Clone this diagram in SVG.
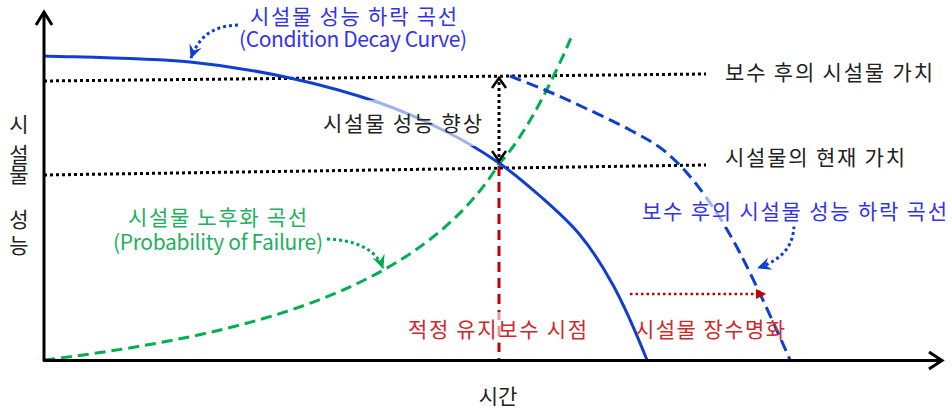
<svg xmlns="http://www.w3.org/2000/svg" width="952" height="410" viewBox="0 0 952 410">
<style>
text{font-family:"Noto Sans CJK KR","Noto Sans",sans-serif;font-size:21px}
.blk{fill:#222}
.blue{fill:#3333ee}
.green{fill:#22b060}
.red{fill:#d02828}
.dot{fill:none;stroke:#000;stroke-width:3;stroke-dasharray:3 3}
.haze{fill:#fff;fill-opacity:0.6}
.axis{fill:none;stroke:#000;stroke-width:3}
</style>
<defs>
<marker id="hb" viewBox="-14 -7 15 14" refX="0" refY="0" markerWidth="15" markerHeight="14" markerUnits="userSpaceOnUse" orient="auto">
<path d="M1,0 L-13,-6.5 L-8,0 L-13,6.5 Z" fill="#0f3fd0"/>
</marker>
<marker id="hg" viewBox="-14 -7 15 14" refX="0" refY="0" markerWidth="15" markerHeight="14" markerUnits="userSpaceOnUse" orient="auto">
<path d="M1,0 L-13,-6.5 L-8,0 L-13,6.5 Z" fill="#00a850"/>
</marker>
<marker id="hr" viewBox="-10 -6 11 12" refX="0" refY="0" markerWidth="11" markerHeight="12" markerUnits="userSpaceOnUse" orient="auto">
<path d="M1,0 L-9,-5 L-9,5 Z" fill="#c00000"/>
</marker>
</defs>

<g id="connectors">
<!-- value reference lines -->
<path class="dot" d="M44,81 L706,74"/>
<path class="dot" d="M44,175 L706,165"/>
<!-- optimal maintenance time -->
<path d="M499,166 L499,360" fill="none" stroke="#c00000" stroke-width="3" stroke-dasharray="10 6"/>
<!-- probability of failure curve -->
<path d="M44,360 C250,335 420,290 499,164 C525,136 552,82 571,38" fill="none" stroke="#00b050" stroke-width="3" stroke-dasharray="11 6"/>
<!-- condition decay curve -->
<path d="M44,56 C68,57 149,58 190,62 C231,66 258,71 290,78 C322,85 354,94 380,103 C406,112 427,122 447,132 C467,142 483.5,152.3 499,163 C514.5,173.7 526.5,184 540,196 C553.5,208 567.8,220.2 580,235 C592.2,249.8 601.8,264.5 613,285 C624.2,305.5 641.3,345.8 647,360" fill="none" stroke="#0f3fd0" stroke-width="3"/>
<!-- post-maintenance decay curve -->
<path d="M510,76 C515.8,78.3 532.5,84.7 545,90 C557.5,95.3 570.8,101.3 585,108 C599.2,114.7 616.3,122.5 630,130 C643.7,137.5 654.8,142.5 667,153 C679.2,163.5 690.8,176.3 703,193 C715.2,209.7 725.5,225.5 740,253 C754.5,280.5 781.7,340.5 790,360" fill="none" stroke="#0f3fd0" stroke-width="3" stroke-dasharray="12 6"/>
<!-- performance improvement double arrow -->
<path class="dot" d="M499,82 L499,158" stroke-width="2.5"/>
<polyline points="492,88 499,78 506,88" fill="none" stroke="#000" stroke-width="2.5"/>
<polyline points="492,151 499,161 506,151" fill="none" stroke="#000" stroke-width="2.5"/>
<!-- life extension arrow -->
<path d="M630,294 L765,294" fill="none" stroke="#c00000" stroke-width="2.5" stroke-dasharray="2.5 3" marker-end="url(#hr)"/>
<!-- callout arrows -->
<path d="M238,25 C215,26 200,34 191,58" fill="none" stroke="#0f3fd0" stroke-width="3" stroke-dasharray="3 3" marker-end="url(#hb)"/>
<path d="M794,226 C793,246 783,259 758,268" fill="none" stroke="#0f3fd0" stroke-width="3" stroke-dasharray="3 3" marker-end="url(#hb)"/>
<path d="M327,239 C355,240 376,249 383,268" fill="none" stroke="#00a850" stroke-width="3" stroke-dasharray="3 3" marker-end="url(#hg)"/>
</g>

<g id="axes">
<path class="axis" d="M44,361 L44,13"/>
<polyline class="axis" points="36,25 44,12 52,25"/>
<path class="axis" d="M43,360.5 L941,360.5"/>
<polyline class="axis" points="929,352 942,360.5 929,369"/>
</g>

<g id="label-improve">
<rect class="haze" x="318" y="100" width="170" height="46"/>
<text class="blk" x="323" y="131" textLength="159">시설물 성능 향상</text>
</g>
<g id="label-after-value">
<text class="blk" x="725" y="80" textLength="208">보수 후의 시설물 가치</text>
</g>
<g id="label-current-value">
<text class="blk" x="725" y="165" textLength="180">시설물의 현재 가치</text>
</g>
<g id="label-decay">
<text class="blue" x="250" y="24" textLength="207">시설물 성능 하락 곡선</text>
<text class="blue" x="239" y="47" textLength="228">(Condition Decay Curve)</text>
</g>
<g id="label-after-decay">
<rect class="haze" x="640" y="193" width="310" height="34"/>
<text class="blue" x="642" y="219" textLength="305">보수 후의 시설물 성능 하락 곡선</text>
</g>
<g id="label-failure">
<text class="green" x="128" y="225" textLength="179">시설물 노후화 곡선</text>
<text class="green" x="113" y="250" textLength="210">(Probability of Failure)</text>
</g>
<g id="label-optimal">
<rect class="haze" x="404" y="312" width="188" height="31"/>
<text class="red" x="408" y="337" textLength="179">적정 유지보수 시점</text>
</g>
<g id="label-extension">
<text class="red" x="635" y="337" textLength="150">시설물 장수명화</text>
</g>
<g id="label-x">
<text class="blk" x="498" y="404" text-anchor="middle">시간</text>
</g>
<g id="label-y" class="blk" text-anchor="middle" style="font-size:20px">
<text x="19" y="132">시</text>
<text x="19" y="162">설</text>
<text x="19" y="182">물</text>
<text x="19" y="227">성</text>
<text x="19" y="253">능</text>
</g>
</svg>
